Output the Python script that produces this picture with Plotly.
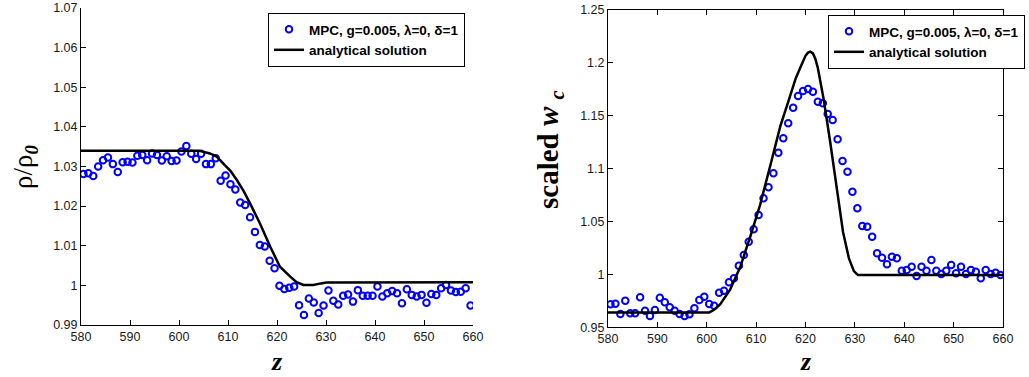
import plotly.graph_objects as go

# ---------------- data ----------------
z_mpc = [580.5, 581.5, 582.5, 583.5, 584.5, 585.5, 586.5, 587.5, 588.5, 589.5,
         590.5, 591.5, 592.5, 593.5, 594.5, 595.5, 596.5, 597.5, 598.5, 599.5,
         600.5, 601.5, 602.5, 603.5, 604.5, 605.5, 606.5, 607.5, 608.5, 609.5,
         610.5, 611.5, 612.5, 613.5, 614.5, 615.5, 616.5, 617.5, 618.5, 619.5,
         620.5, 621.5, 622.5, 623.5, 624.5, 625.5, 626.5, 627.5, 628.5, 629.5,
         630.5, 631.5, 632.5, 633.5, 634.5, 635.5, 636.5, 637.5, 638.5, 639.5,
         640.5, 641.5, 642.5, 643.5, 644.5, 645.5, 646.5, 647.5, 648.5, 649.5,
         650.5, 651.5, 652.5, 653.5, 654.5, 655.5, 656.5, 657.5, 658.5, 659.5]

rho_mpc = [1.0281, 1.0283, 1.0276, 1.0300, 1.0316, 1.0323, 1.0306, 1.0286, 1.0311, 1.0312,
           1.0310, 1.0327, 1.0329, 1.0316, 1.0333, 1.0329, 1.0315, 1.0326, 1.0314, 1.0315,
           1.0338, 1.0352, 1.0332, 1.0319, 1.0332, 1.0306, 1.0306, 1.0321, 1.0264, 1.0277,
           1.0255, 1.0242, 1.0209, 1.0203, 1.0172, 1.0135, 1.0102, 1.0098, 1.0062, 1.0043,
           0.9999, 0.9991, 0.9994, 0.9997, 0.9950, 0.9925, 0.9967, 0.9957, 0.9930, 0.9949,
           0.9987, 0.9961, 0.9952, 0.9974, 0.9977, 0.9959, 0.9988, 0.9974, 0.9974, 0.9974,
           0.9997, 0.9972, 0.9980, 0.9986, 0.9980, 0.9955, 0.9990, 0.9976, 0.9972, 0.9976,
           0.9956, 0.9978, 0.9976, 0.9993, 1.0001, 0.9987, 0.9983, 0.9984, 0.9993, 0.9949]

wc_mpc = [0.9716, 0.9722, 0.9625, 0.9751, 0.9631, 0.9631, 0.9783, 0.9656, 0.9606, 0.9663,
          0.9779, 0.9735, 0.9688, 0.9656, 0.9625, 0.9606, 0.9622, 0.9679, 0.9757, 0.9788,
          0.9719, 0.9703, 0.9826, 0.9845, 0.9924, 0.9962, 1.0081, 1.0182, 1.0308, 1.0425,
          1.0560, 1.0718, 1.0822, 1.0955, 1.1149, 1.1285, 1.1427, 1.1575, 1.1685, 1.1733,
          1.1751, 1.1726, 1.1631, 1.1616, 1.1515, 1.1458, 1.1276, 1.1071, 1.0970, 1.0781,
          1.0624, 1.0457, 1.0450, 1.0355, 1.0198, 1.0157, 1.0095, 1.0166, 1.0151, 1.0034,
          1.0041, 1.0072, 0.9984, 1.0072, 1.0034, 1.0135, 1.0034, 1.0003, 1.0034, 1.0088,
          1.0009, 1.0072, 1.0003, 1.0041, 1.0025, 0.9962, 1.0041, 1.0003, 1.0015, 0.9993]

z_rho_an = [580, 604, 606.3, 607.7, 609.0, 610.5, 611.8, 613.2, 614.5, 616.5, 618.6,
            620.6, 622.7, 624.0, 625.4, 627.4, 629.0, 630.1, 660]
rho_an = [1.0340, 1.0340, 1.0333, 1.0325, 1.0308, 1.0289, 1.0266, 1.0238, 1.0207, 1.0157, 1.0098,
          1.0047, 1.0022, 1.0008, 1.0001, 1.0001, 1.0005, 1.0007, 1.0008]

z_wc_an = [580, 600.5, 601.5, 602.7, 604.7, 606.8, 608.8, 610.8, 612.9, 614.9, 616.5, 618.0,
           619.0, 619.6, 620.0, 620.5, 621.0, 621.5, 622.0, 622.5, 623.7, 625.0, 626.3,
           627.6, 628.8, 629.8, 630.6, 660]
wc_an = [0.9640, 0.9640, 0.9665, 0.9715, 0.9852, 1.0072, 1.0355, 1.0655, 1.1033, 1.1400, 1.1630, 1.1850,
         1.1960, 1.2026, 1.2065, 1.2095, 1.2104, 1.2088, 1.2035, 1.1950, 1.1650, 1.1250, 1.0800,
         1.0400, 1.0150, 1.0030, 0.9993, 0.9993]

x_ticks = [580, 590, 600, 610, 620, 630, 640, 650, 660]
rho_ticks = [0.99, 1.00, 1.01, 1.02, 1.03, 1.04, 1.05, 1.06, 1.07]
rho_ticklabels = ["0.99", "1", "1.01", "1.02", "1.03", "1.04", "1.05", "1.06", "1.07"]
wc_ticks = [0.95, 1.00, 1.05, 1.10, 1.15, 1.20, 1.25]
wc_ticklabels = ["0.95", "1", "1.05", "1.1", "1.15", "1.2", "1.25"]

mpc_name = "MPC, g=0.005, λ=0, δ=1"
an_name = "analytical solution"

# ---------------- figure ----------------
W, H = 1029, 377
fig = go.Figure()

marker = dict(symbol="circle-open", size=6.5, color="#0000FF", line=dict(width=2, color="#0000FF"))

fig.add_trace(go.Scatter(x=z_mpc, y=rho_mpc, mode="markers", marker=marker, name=mpc_name,
                         xaxis="x", yaxis="y", legend="legend"))
fig.add_trace(go.Scatter(x=z_rho_an, y=rho_an, mode="lines", line=dict(color="black", width=2.5),
                         name=an_name, xaxis="x", yaxis="y", legend="legend"))
fig.add_trace(go.Scatter(x=z_mpc, y=wc_mpc, mode="markers", marker=marker, name=mpc_name,
                         xaxis="x2", yaxis="y2", legend="legend2"))
fig.add_trace(go.Scatter(x=z_wc_an, y=wc_an, mode="lines", line=dict(color="black", width=2.5),
                         name=an_name, xaxis="x2", yaxis="y2", legend="legend2"))

tickfont = dict(family="Liberation Sans, Arial, sans-serif", size=12.5, color="#1a1a1a")
axcommon = dict(showgrid=False, zeroline=False, showline=True, linecolor="black", linewidth=1,
                ticks="inside", ticklen=5, tickwidth=1, tickcolor="black", tickfont=tickfont)

legfont = dict(family="Liberation Sans, Arial, sans-serif", size=13.5, color="black", weight="bold")
legcommon = dict(font=legfont, bgcolor="white", bordercolor="black", borderwidth=1,
                 xanchor="left", yanchor="top", tracegroupgap=0)

fig.update_layout(
    width=W, height=H,
    margin=dict(l=0, r=0, t=0, b=0, autoexpand=False),
    paper_bgcolor="white", plot_bgcolor="white",
    xaxis=dict(domain=[81 / W, 473 / W], range=[580, 660], tickvals=x_ticks,
               anchor="y", mirror=False, **axcommon),
    yaxis=dict(domain=[1 - 325 / H, 1 - 8 / H], range=[0.99, 1.07], tickvals=rho_ticks,
               ticktext=rho_ticklabels, anchor="x", mirror=False, **axcommon),
    xaxis2=dict(domain=[608 / W, 1003 / W], range=[580, 660], tickvals=x_ticks,
                anchor="y2", mirror="ticks", **axcommon),
    yaxis2=dict(domain=[1 - 327.2 / H, 1 - 9.8 / H], range=[0.95, 1.25], tickvals=wc_ticks,
                ticktext=wc_ticklabels, anchor="x2", mirror="ticks", **axcommon),
    legend=dict(x=268 / W, y=1 - 13 / H, **legcommon),
    legend2=dict(x=828 / W, y=1 - 15 / H, **legcommon),
    showlegend=True,
)

serif = "Liberation Serif, Times New Roman, serif"
annots = [
    dict(text="ρ/ρ<sub><b><i>0</i></b></sub>", x=25 / W, y=1 - 167 / H, textangle=-90,
         font=dict(family=serif, size=27, color="black")),
    dict(text="scaled <i>w</i> <sub><i>c</i></sub>", x=550 / W, y=1 - 150 / H, textangle=-90,
         font=dict(family=serif, size=29, color="black", weight="bold")),
    dict(text="<i>z</i>", x=277 / W, y=1 - 361 / H,
         font=dict(family=serif, size=26, color="black", weight="bold")),
    dict(text="<i>z</i>", x=806 / W, y=1 - 361 / H,
         font=dict(family=serif, size=26, color="black", weight="bold")),
]
for a in annots:
    fig.add_annotation(xref="paper", yref="paper", showarrow=False,
                       xanchor="center", yanchor="middle", **a)

fig.write_html("out.html")
